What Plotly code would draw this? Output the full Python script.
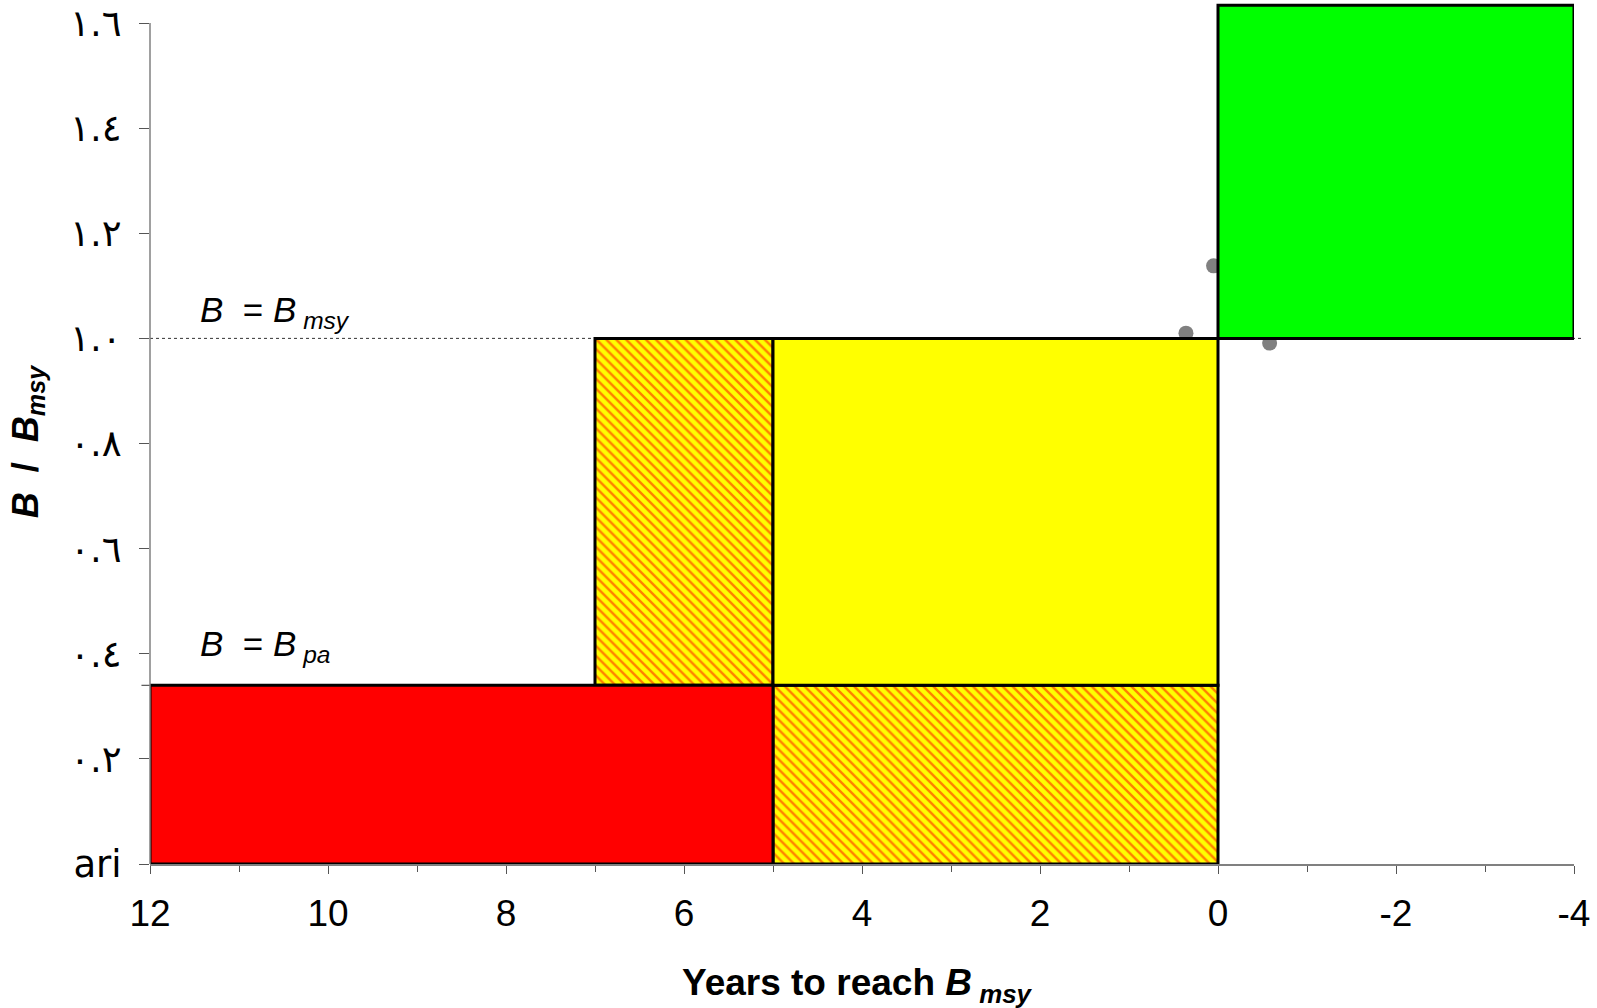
import plotly.graph_objects as go

# --- data ---
y_tick_vals = [0, 0.2, 0.4, 0.6, 0.8, 1.0, 1.2, 1.4, 1.6]
y_tick_text = ["ari", "٠.٢", "٠.٤", "٠.٦", "٠.٨", "١.٠", "١.٢", "١.٤", "١.٦"]
x_tick_vals = [12, 10, 8, 6, 4, 2, 0, -2, -4]
x_tick_text = ["12", "10", "8", "6", "4", "2", "0", "-2", "-4"]

B_msy = 1.0
B_pa = 0.34

# zones: (x0, x1, y0, y1)
red_zone = (12, 5, 0, B_pa)
hatch_low = (5, 0, 0, B_pa)
hatch_high = (7, 5, B_pa, B_msy)
yellow_zone = (5, 0, B_pa, B_msy)
green_zone = (0, -4, B_msy, 1.634)

points_x = [0.05, 0.36, -0.58]
points_y = [1.138, 1.010, 0.991]

fig = go.Figure()

# points (beneath boxes)
fig.add_trace(go.Scatter(x=points_x, y=points_y, mode="markers",
                         marker=dict(size=15, color="#808080"),
                         showlegend=False, hoverinfo="skip", cliponaxis=False))


def box(z, color=None, pattern=False):
    x0, x1, y0, y1 = z
    kw = dict(x=[x0, x1, x1, x0, x0], y=[y0, y0, y1, y1, y0], mode="lines",
              fill="toself", line=dict(color="black", width=3),
              showlegend=False, hoverinfo="skip")
    if pattern:
        kw["fillcolor"] = "#ffff00"
        kw["fillpattern"] = dict(shape="\\", bgcolor="#ffff00", fgcolor="#ff0000",
                                 size=7, solidity=0.35)
    else:
        kw["fillcolor"] = color
    return go.Scatter(**kw)


fig.add_trace(box(hatch_high, pattern=True))
fig.add_trace(box(hatch_low, pattern=True))
fig.add_trace(box(yellow_zone, "#ffff00"))
fig.add_trace(box(red_zone, "#ff0000"))
fig.add_trace(box(green_zone, "#00ff00"))
fig.data[-1].update(cliponaxis=False)

shapes = [
    # B = Bmsy dotted reference
    dict(type="line", xref="paper", yref="y", x0=0, x1=1.007, y0=B_msy, y1=B_msy,
         line=dict(color="#333333", width=1, dash="dot"), layer="below"),
    # B = Bpa reference
    dict(type="line", xref="paper", yref="y", x0=-0.006, x1=0.75, y0=B_pa, y1=B_pa,
         line=dict(color="#333333", width=1, dash="dash"), layer="below"),
    # y axis line
    dict(type="line", xref="paper", yref="y", x0=0, x1=0, y0=-0.02, y1=1.6,
         line=dict(color="#808080", width=1.5), layer="above"),
]

font_main = "Liberation Sans, Arial, DejaVu Sans, sans-serif"

annotations = [
    dict(x=11.46, y=1.005, xref="x", yref="y", xanchor="left", yanchor="bottom",
         text="<i>B</i>  = <i>B</i><sub><i> msy</i></sub>", showarrow=False,
         font=dict(size=35, color="black", family=font_main)),
    dict(x=11.46, y=0.37, xref="x", yref="y", xanchor="left", yanchor="bottom",
         text="<i>B</i>  = <i>B</i><sub><i> pa</i></sub>", showarrow=False,
         font=dict(size=35, color="black", family=font_main)),
    dict(x=0.497, y=-0.14, xref="paper", yref="paper", xanchor="center", yanchor="middle",
         text="<b>Years to reach <i>B</i></b><sub><b><i> msy</i></b></sub>", showarrow=False,
         font=dict(size=37, color="black", family=font_main)),
    dict(x=-0.086, y=0.49, xref="paper", yref="paper", xanchor="center", yanchor="middle",
         text="<b><i>B</i>  /  <i>B</i></b><sub><b><i>msy</i></b></sub>", showarrow=False,
         textangle=-90, font=dict(size=36, color="black", family=font_main)),
]

fig.update_layout(
    width=1597, height=1008,
    margin=dict(l=150, r=23, t=2, b=144, autoexpand=False),
    plot_bgcolor="white", paper_bgcolor="white",
    shapes=shapes, annotations=annotations,
    showlegend=False,
    xaxis=dict(range=[12, -4], tickvals=x_tick_vals, ticktext=x_tick_text,
               automargin=False,
               showgrid=False, zeroline=False, showline=True, linecolor="#808080",
               linewidth=1.5, ticks="outside", ticklen=8, tickcolor="#555555",
               ticklabelstandoff=8,
               tickfont=dict(size=37, color="black", family=font_main),
               minor=dict(tickvals=[11, 9, 7, 5, 3, 1, -1, -3], ticks="outside",
                          ticklen=6, tickcolor="#555555")),
    yaxis=dict(range=[0, 1.64], tickvals=y_tick_vals, ticktext=y_tick_text,
               automargin=False,
               showgrid=False, zeroline=False, showline=False,
               ticks="outside", ticklen=10, tickcolor="#555555",
               ticklabelstandoff=10,
               tickfont=dict(size=37, color="black", family="DejaVu Sans, sans-serif")),
)

fig.write_html("out.html", config={"displayModeBar": False},
               post_script="document.body.style.margin='0';document.body.style.overflow='hidden';")
